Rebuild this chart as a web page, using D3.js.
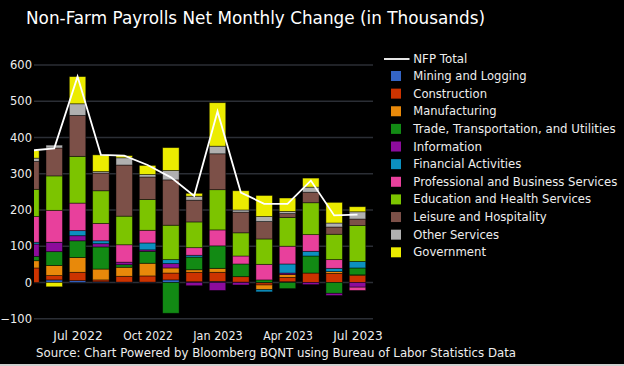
<!DOCTYPE html>
<html>
<head>
<meta charset="utf-8">
<script src="https://cdn.jsdelivr.net/npm/d3@7"></script>
<style>
  html, body { margin: 0; padding: 0; background: #000; }
  svg { display: block; }
  text { font-family: "DejaVu Sans", Verdana, sans-serif; fill: #eeeeee; }
</style>
</head>
<body>
<svg id="chart" width="624" height="366"></svg>
<script>
// ---------------- DATA ----------------
const months = ["2022-05","2022-06","2022-07","2022-08","2022-09","2022-10","2022-11","2022-12",
                "2023-01","2023-02","2023-03","2023-04","2023-05","2023-06","2023-07"];
const seriesNames = ["Mining and Logging","Construction","Manufacturing","Trade, Transportation, and Utilities",
  "Information","Financial Activities","Professional and Business Services","Education and Health Services",
  "Leisure and Hospitality","Other Services","Government"];
const mining        = [0, 7, 5, 2, 1, 1, 7, 2, 3, 1, -1, 2, 0, 0, 0];
const construction  = [40, 12, 23, 5, 16, 17, 19, 26, 25, 15, -6, 12, 26, 25, 19];
const manufacturing = [20, 28, 41, 30, 25, 35, 14, 7, 11, 0, -13, 8, 0, 5, 2];
const trade         = [12, 38, 46, 61, 7, 33, -85, 35, 62, 35, 7, -17, 47, -30, 19];
const information   = [34, 25, 14, 9, 7, 4, 12, -9, -22, -7, 0, 4, -6, -6, -13];
const financial     = [5, 1, 14, 8, 0, 19, 11, 5, 0, 0, -6, 25, 13, 9, 18];
const professional  = [71, 88, 76, 48, 48, 35, 0, 21, 44, 22, 43, 49, 46, 24, -9];
const education     = [75, 95, 129, 90, 79, 85, 95, 71, 111, 64, 70, 79, 88, 70, 99];
const leisure       = [77, 77, 113, 49, 141, 62, 125, 60, 99, 57, 48, 11, 29, 20, 18];
const otherServices = [9, 8, 32, 4, 20, 7, 26, 11, 21, 6, 14, 6, 14, 11, 20];
const government    = [21, -12, 75, 46, 6, 25, 63, 8, 120, 53, 58, 37, 25, 57, 14];
const nfpTotal      = [364, 370, 568, 352, 350, 324, 290, 239, 472, 248, 217, 217, 281, 185, 187];
const yTicks = [-100, 0, 100, 200, 300, 400, 500, 600];
const xTickMonths = ["2022-07","2022-10","2023-01","2023-04","2023-07"];
const xTickLabels = ["Jul 2022","Oct 2022","Jan 2023","Apr 2023","Jul 2023"];

// ---------------- STYLE ----------------
const colors = ["#3464c4","#cc3300","#e8890a","#128a14","#8c0c9c","#0c90c0","#e8409c","#7cc400","#7c5048","#b0b0b0","#ecec00"];
const seriesArrays = [mining, construction, manufacturing, trade, information, financial,
  professional, education, leisure, otherServices, government];

const svg = d3.select("#chart");
svg.append("rect").attr("width",624).attr("height",366).attr("fill","#000");

const plotL = 34, plotR = 373;
const x = d3.scalePoint().domain(months).range([30.9, 357.5]);
const y = d3.scaleLinear().domain([-100, 600]).range([318.7, 65]);
const barW = x.step() * 0.707;

function fitText(sel, target) {
  const n = sel.node();
  const w = n.getComputedTextLength();
  sel.attr("textLength", target).attr("lengthAdjust", "spacingAndGlyphs");
}

// Title
const title = svg.append("text").attr("x", 26).attr("y", 24)
  .style("font-size", "17.5px").style("fill", "#ffffff")
  .text("Non-Farm Payrolls Net Monthly Change (in Thousands)");
fitText(title, 459);

// gridlines
svg.append("g").selectAll("line").data(yTicks).join("line")
  .attr("x1", plotL).attr("x2", plotR)
  .attr("y1", d => y(d)).attr("y2", d => y(d))
  .attr("stroke", "#2b2e35").attr("stroke-width", 1.5);

// y axis
const yAxis = svg.append("g").attr("transform", `translate(${plotL},0)`)
  .call(d3.axisLeft(y).tickValues(yTicks).tickSize(0).tickPadding(2).tickFormat(d3.format("d")));
yAxis.select(".domain").remove();
yAxis.selectAll("text").style("font-size", "11.5px").style("font-family", '"DejaVu Sans", Verdana, sans-serif').attr("fill", "#eeeeee");

// clip
svg.append("clipPath").attr("id", "plotclip").append("rect")
  .attr("x", plotL).attr("y", 40).attr("width", plotR - plotL).attr("height", 300);

// stacked bars
const table = months.map((m, i) => {
  const row = { month: m };
  seriesNames.forEach((s, k) => row[s] = seriesArrays[k][i]);
  return row;
});
const stack = d3.stack().keys(seriesNames).offset(d3.stackOffsetDiverging)(table);

const barsG = svg.append("g").attr("clip-path", "url(#plotclip)");
stack.forEach((layer, k) => {
  barsG.append("g").attr("fill", colors[k]).selectAll("rect").data(layer).join("rect")
    .attr("x", d => x(d.data.month) - barW / 2)
    .attr("width", barW)
    .attr("y", d => y(Math.max(d[0], d[1])))
    .attr("height", d => Math.abs(y(d[0]) - y(d[1])))
    .attr("stroke", "rgba(0,0,0,0.55)").attr("stroke-width", 0.8);
});

// NFP line
const line = d3.line().x((d, i) => x(months[i])).y(d => y(d));
barsG.append("path").datum(nfpTotal).attr("d", line)
  .attr("fill", "none").attr("stroke", "#ffffff").attr("stroke-width", 1.8);

// x axis
const xAxis = svg.append("g").attr("transform", `translate(0,330)`)
  .call(d3.axisBottom(x).tickValues(xTickMonths).tickSize(0).tickPadding(0)
    .tickFormat((d) => xTickLabels[xTickMonths.indexOf(d)]));
xAxis.select(".domain").remove();
xAxis.selectAll("text").style("font-size", "11.5px").style("font-family", '"DejaVu Sans", Verdana, sans-serif')
  .attr("fill", "#eeeeee").attr("y", 10).attr("dy", 0)
  .each(function() { d3.select(this).attr("textLength", 49.5).attr("lengthAdjust", "spacingAndGlyphs"); });

// source
const src = svg.append("text").attr("x", 36).attr("y", 357).style("font-size", "11.5px")
  .text("Source: Chart Powered by Bloomberg BQNT using Bureau of Labor Statistics Data");
fitText(src, 480);

// legend
const legendWidths = [113.3, 73.7, 83.3, 202.3, 68.7, 108, 204, 177.7, 133.3, 85.7, 72.7];
const lg = svg.append("g");
lg.append("line").attr("x1", 384).attr("x2", 409.5).attr("y1", 59).attr("y2", 59)
  .attr("stroke", "#fff").attr("stroke-width", 1.8);
const nfpT = lg.append("text").attr("x", 413.3).attr("y", 63).style("font-size", "11.5px").text("NFP Total");
fitText(nfpT, 54);
seriesNames.forEach((s, k) => {
  const cy = 76 + k * 17.63;
  lg.append("rect").attr("x", 391).attr("y", cy - 5).attr("width", 10).attr("height", 10).attr("fill", colors[k]);
  const t = lg.append("text").attr("x", 413.3).attr("y", cy + 4).style("font-size", "11.5px").text(s);
  fitText(t, legendWidths[k]);
});

// bottom border
svg.append("rect").attr("x", 0).attr("y", 364).attr("width", 624).attr("height", 2).attr("fill", "#cfcfcf");
</script>
</body>
</html>
